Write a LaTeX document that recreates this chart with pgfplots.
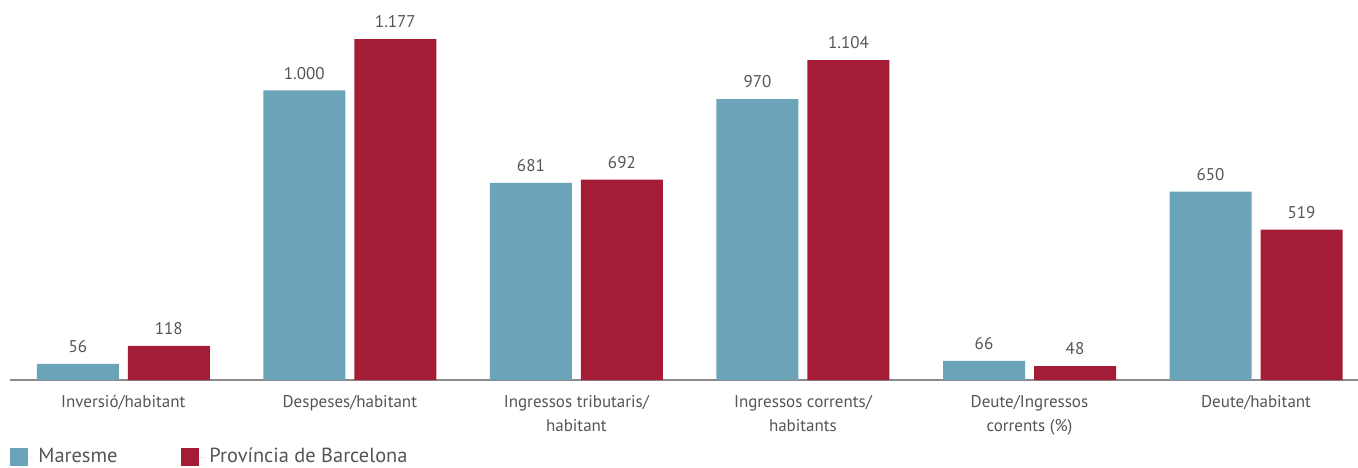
\documentclass[border=0pt]{standalone}
\usepackage{pgfplots}
\pgfplotsset{compat=1.18}
\usepackage{fontspec}
\setmainfont{PT Sans}
\definecolor{maresme}{HTML}{6BA3B8}
\definecolor{provincia}{HTML}{A51C36}
\definecolor{txt}{HTML}{555555}
\definecolor{axisgray}{HTML}{8A8A8A}

\begin{document}
\begin{tikzpicture}
\begin{axis}[
    at={(0,0)}, anchor=south west,
    scale only axis,
    width=674pt, height=190pt,
    ybar=4.5pt, bar width=41pt,
    xmin=-0.5, xmax=5.45,
    ymin=0, ymax=1312,
    axis y line=none,
    axis x line*=bottom,
    x axis line style={draw=axisgray, line width=0.8pt, -},
    xtick={0,1,2,3,4,5},
    xticklabels={Inversió/habitant, Despeses/habitant, Ingressos tributaris/\\habitant, Ingressos corrents/\\habitants, Deute/Ingressos\\corrents (\%), Deute/habitant},
    major tick length=0pt,
    xticklabel style={font=\fontsize{8.5}{12}\selectfont, text=txt, align=center, yshift=-4pt},
    nodes near coords,
    nodes near coords style={font=\fontsize{8.5}{10}\selectfont, text=txt, yshift=2pt,
        /pgf/number format/.cd, fixed, precision=0, 1000 sep={.}, assume math mode=true},
    clip=false,
    legend style={at={(0,-0.168)}, anchor=north west, draw=none, fill=none,
        font=\fontsize{10.2}{12}\selectfont, text=txt, inner sep=0pt,
        legend columns=2, /tikz/every even column/.append style={column sep=30pt}},
    legend image code/.code={\fill[#1] (0pt,-4.5pt) rectangle (9pt,4.5pt);
        \path (0pt,0pt) -- (12pt,0pt);},
]
\addplot[fill=maresme, draw=none] coordinates {(0,56) (1,1000) (2,681) (3,970) (4,66) (5,650)};
\addplot[fill=provincia, draw=none] coordinates {(0,118) (1,1177) (2,692) (3,1104) (4,48) (5,519)};
\legend{Maresme, Província de Barcelona}
\end{axis}
\pgfresetboundingbox
\path (-5pt,-43.5pt) rectangle (674pt,190pt);
\end{tikzpicture}
\end{document}
